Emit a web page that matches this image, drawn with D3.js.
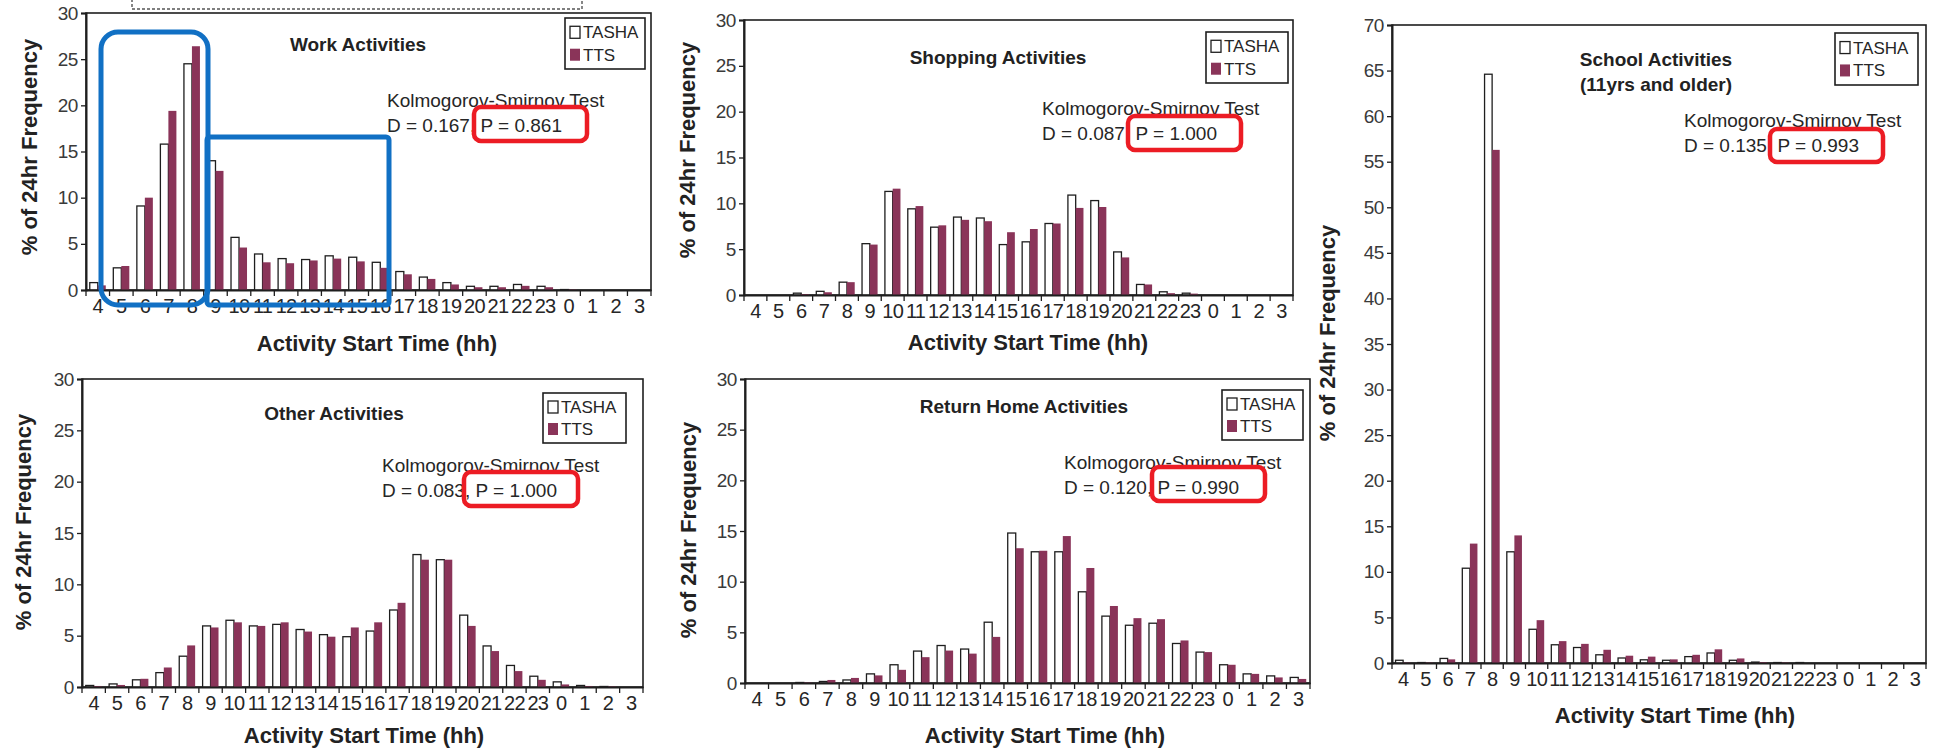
<!DOCTYPE html>
<html>
<head>
<meta charset="utf-8">
<script src="https://cdn.jsdelivr.net/npm/d3@7"></script>
<style>
  body { margin: 0; background: #fff; }
  svg { display: block; font-family: "Liberation Sans", Arial, Helvetica, sans-serif; }
</style>
</head>
<body>
<svg id="chart" width="1937" height="748"></svg>
<script>
// Hour of day at which an activity starts (the day runs 4:00 to 3:59)
const hours = ["4","5","6","7","8","9","10","11","12","13","14","15","16","17","18","19","20","21","22","23","0","1","2","3"];
const seriesNames = ["TASHA", "TTS"];

// % of 24hr frequency, one value per hour above
const workTasha   = [0.8, 2.4, 9.1, 15.8, 24.5, 14.0, 5.7, 3.9, 3.4, 3.3, 3.7, 3.55, 3.0, 2.0, 1.4, 0.8, 0.4, 0.4, 0.6, 0.4, 0.05, 0, 0, 0];
const workTts     = [0.5, 2.6, 10.0, 19.4, 26.4, 12.9, 4.6, 3.0, 2.9, 3.2, 3.4, 3.1, 2.4, 1.7, 1.2, 0.6, 0.3, 0.3, 0.45, 0.3, 0.05, 0, 0, 0];

const shopTasha   = [0, 0, 0.2, 0.4, 1.4, 5.6, 11.3, 9.4, 7.4, 8.5, 8.4, 5.5, 5.8, 7.8, 10.9, 10.3, 4.7, 1.15, 0.35, 0.2, 0, 0, 0, 0];
const shopTts     = [0, 0, 0.1, 0.3, 1.4, 5.5, 11.6, 9.7, 7.6, 8.2, 8.05, 6.85, 7.2, 7.8, 9.5, 9.6, 4.1, 1.15, 0.2, 0.15, 0, 0, 0, 0];

const schoolTasha = [0.3, 0.05, 0.5, 10.4, 64.6, 12.2, 3.7, 2.0, 1.7, 0.9, 0.55, 0.35, 0.3, 0.7, 1.1, 0.3, 0.1, 0.05, 0.05, 0, 0, 0, 0, 0];
const schoolTts   = [0.05, 0.05, 0.4, 13.1, 56.3, 14.0, 4.7, 2.4, 2.1, 1.45, 0.8, 0.7, 0.4, 0.9, 1.5, 0.5, 0.1, 0.05, 0, 0, 0, 0, 0, 0];

const otherTasha  = [0.15, 0.3, 0.7, 1.4, 3.0, 5.95, 6.5, 5.95, 6.1, 5.6, 5.1, 4.9, 5.45, 7.5, 12.9, 12.4, 7.0, 4.0, 2.1, 1.05, 0.5, 0.15, 0.05, 0];
const otherTts    = [0.1, 0.2, 0.8, 1.9, 4.05, 5.8, 6.3, 5.95, 6.3, 5.4, 4.9, 5.8, 6.3, 8.2, 12.4, 12.4, 5.95, 3.5, 1.55, 0.7, 0.25, 0.1, 0.05, 0];

const homeTasha   = [0, 0, 0.05, 0.15, 0.3, 0.9, 1.8, 3.15, 3.7, 3.35, 6.0, 14.8, 12.95, 12.95, 9.0, 6.6, 5.7, 5.9, 3.9, 3.05, 1.8, 0.9, 0.7, 0.55];
const homeTts     = [0, 0, 0.05, 0.3, 0.5, 0.75, 1.3, 2.55, 3.2, 2.9, 4.55, 13.3, 13.05, 14.5, 11.35, 7.6, 6.4, 6.3, 4.2, 3.05, 1.8, 0.9, 0.55, 0.4];

// Kolmogorov-Smirnov results per activity type
const ksD = ["0.167", "0.087", "0.135", "0.083", "0.120"];
const ksP = ["0.861", "1.000", "0.993", "1.000", "0.990"];
const panelTitles = [["Work Activities"], ["Shopping Activities"], ["School Activities", "(11yrs and older)"], ["Other Activities"], ["Return Home Activities"]];
const yMaxima = [30, 30, 70, 30, 30];

// Placement of each small-multiple on the page
const layouts = [
  { frame: {l: 86,  r: 651,  t: 13,  b: 290}, title: [358, 51],   legend: [565, 18, 80, 51],   ks: [387, 107],  red: [474, 107, 113, 34], yTitle: [37, 147],   xTitle: [377, 351] },
  { frame: {l: 744, r: 1293, t: 20,  b: 295}, title: [998, 64],   legend: [1206, 32, 82, 51],  ks: [1042, 115], red: [1128, 116, 113, 34], yTitle: [695, 150], xTitle: [1028, 350] },
  { frame: {l: 1392, r: 1926, t: 25, b: 663}, title: [1656, 66],  legend: [1835, 33, 83, 52],  ks: [1684, 127], red: [1770, 129, 113, 33], yTitle: [1335, 333], xTitle: [1675, 723] },
  { frame: {l: 82,  r: 643,  t: 379, b: 687}, title: [334, 420],  legend: [543, 393, 83, 50],  ks: [382, 472],  red: [464, 472, 114, 34], yTitle: [31, 522],   xTitle: [364, 743] },
  { frame: {l: 745, r: 1310, t: 379, b: 683}, title: [1024, 413], legend: [1222, 390, 81, 50], ks: [1064, 469], red: [1152, 467, 113, 34], yTitle: [696, 530], xTitle: [1045, 743] }
];

const tashaSeries = [workTasha, shopTasha, schoolTasha, otherTasha, homeTasha];
const ttsSeries   = [workTts, shopTts, schoolTts, otherTts, homeTts];

const TTS_COLOR = "#8a3459";
const INK = "#1e1e1e";

const svg = d3.select("#chart");
svg.append("rect").attr("width", 1937).attr("height", 748).attr("fill", "#fff");

layouts.forEach((lay, i) => {
  const f = lay.frame;
  const g = svg.append("g").attr("class", "panel");

  const x = d3.scaleBand().domain(hours).range([f.l, f.r]).padding(0);
  const y = d3.scaleLinear().domain([0, yMaxima[i]]).range([f.b, f.t]);
  const step = x.step();
  const bw = step * 0.34;

  // plot frame
  g.append("rect")
    .attr("x", f.l).attr("y", f.t)
    .attr("width", f.r - f.l).attr("height", f.b - f.t)
    .attr("fill", "none").attr("stroke", INK).attr("stroke-width", 1.6);

  // bars
  const rows = hours.map((h, k) => ({h, tasha: tashaSeries[i][k], tts: ttsSeries[i][k]}));
  g.selectAll(".bar-tasha").data(rows.filter(d => d.tasha > 0)).join("rect")
    .attr("class", "bar-tasha")
    .attr("x", d => x(d.h) + step / 2 - bw)
    .attr("y", d => y(d.tasha))
    .attr("width", bw)
    .attr("height", d => y(0) - y(d.tasha))
    .attr("fill", "#fff").attr("stroke", INK).attr("stroke-width", 1.3);
  g.selectAll(".bar-tts").data(rows.filter(d => d.tts > 0)).join("rect")
    .attr("class", "bar-tts")
    .attr("x", d => x(d.h) + step / 2)
    .attr("y", d => y(d.tts))
    .attr("width", bw)
    .attr("height", d => y(0) - y(d.tts))
    .attr("fill", TTS_COLOR);

  // y axis
  const yAxis = g.append("g").attr("transform", `translate(${f.l},0)`)
    .call(d3.axisLeft(y).tickValues(d3.range(0, yMaxima[i] + 1, 5)).tickSize(5).tickPadding(3));
  yAxis.select(".domain").attr("stroke", INK).attr("stroke-width", 2);
  yAxis.selectAll(".tick line").attr("stroke", INK).attr("stroke-width", 1.3);
  yAxis.selectAll(".tick text").attr("font-size", 19).attr("fill", "#3a3a3a")
    .attr("letter-spacing", -0.4)
    .attr("font-family", "Liberation Sans, Arial, sans-serif");

  // x axis: labels at the hour centres, tick marks between hours
  const xAxis = g.append("g").attr("transform", `translate(0,${f.b})`)
    .call(d3.axisBottom(x).tickSize(0).tickPadding(9));
  xAxis.select(".domain").attr("stroke", INK).attr("stroke-width", 2);
  xAxis.selectAll(".tick text").attr("font-size", 20).attr("fill", "#262626")
    .attr("letter-spacing", -0.7)
    .attr("font-family", "Liberation Sans, Arial, sans-serif");
  const edges = hours.map(h => x(h)).concat([f.r]);
  g.selectAll(".xtick").data(edges).join("line")
    .attr("x1", d => d).attr("x2", d => d)
    .attr("y1", f.b).attr("y2", f.b + 6)
    .attr("stroke", INK).attr("stroke-width", 1.3);

  // axis titles
  g.append("text")
    .attr("x", lay.xTitle[0]).attr("y", lay.xTitle[1])
    .attr("text-anchor", "middle").attr("font-size", 22).attr("font-weight", "bold").attr("fill", "#222")
    .text("Activity Start Time (hh)");
  g.append("text")
    .attr("transform", `translate(${lay.yTitle[0]},${lay.yTitle[1]}) rotate(-90)`)
    .attr("text-anchor", "middle").attr("font-size", 22).attr("font-weight", "bold").attr("fill", "#222")
    .text("% of 24hr Frequency");

  // panel title
  panelTitles[i].forEach((line, k) => {
    g.append("text")
      .attr("x", lay.title[0]).attr("y", lay.title[1] + k * 25)
      .attr("text-anchor", "middle").attr("font-size", 19).attr("font-weight", "bold").attr("fill", "#222")
      .text(line);
  });

  // legend
  const [lx, ly, lw, lh] = lay.legend;
  const lg = g.append("g");
  lg.append("rect").attr("x", lx).attr("y", ly).attr("width", lw).attr("height", lh)
    .attr("fill", "#fff").attr("stroke", INK).attr("stroke-width", 1.6);
  seriesNames.forEach((name, k) => {
    const cy = ly + lh * (k === 0 ? 0.28 : 0.72);
    lg.append("rect").attr("x", lx + 5).attr("y", cy - 6).attr("width", 10).attr("height", 12)
      .attr("fill", k === 0 ? "#fff" : TTS_COLOR)
      .attr("stroke", k === 0 ? INK : "none").attr("stroke-width", 1.3);
    lg.append("text").attr("x", lx + 18).attr("y", cy + 6)
      .attr("font-size", 17).attr("fill", "#262626").text(name);
  });

  // Kolmogorov-Smirnov note
  g.append("text").attr("x", lay.ks[0]).attr("y", lay.ks[1])
    .attr("font-size", 19).attr("fill", "#262626").text("Kolmogorov-Smirnov Test");
  g.append("text").attr("x", lay.ks[0]).attr("y", lay.ks[1] + 25)
    .attr("font-size", 19).attr("fill", "#262626").text(`D = ${ksD[i]}, P = ${ksP[i]}`);

  // highlight around the P value
  const [rx, ry, rw, rh] = lay.red;
  g.append("rect").attr("x", rx).attr("y", ry).attr("width", rw).attr("height", rh)
    .attr("rx", 7).attr("fill", "none").attr("stroke", "#ec1c24").attr("stroke-width", 4.5);
});

// call-outs on the work panel: morning peak and daytime plateau
svg.append("rect").attr("x", 101).attr("y", 32).attr("width", 107).attr("height", 273)
  .attr("rx", 17).attr("fill", "none").attr("stroke", "#1170c4").attr("stroke-width", 5);
svg.append("rect").attr("x", 207).attr("y", 137).attr("width", 182).attr("height", 168)
  .attr("rx", 3).attr("fill", "none").attr("stroke", "#1170c4").attr("stroke-width", 5);

// dashed outline cut by the top edge
svg.append("rect").attr("x", 132).attr("y", -4).attr("width", 450).attr("height", 13)
  .attr("fill", "none").attr("stroke", "#555").attr("stroke-width", 1.4).attr("stroke-dasharray", "3,2");
</script>
</body>
</html>
